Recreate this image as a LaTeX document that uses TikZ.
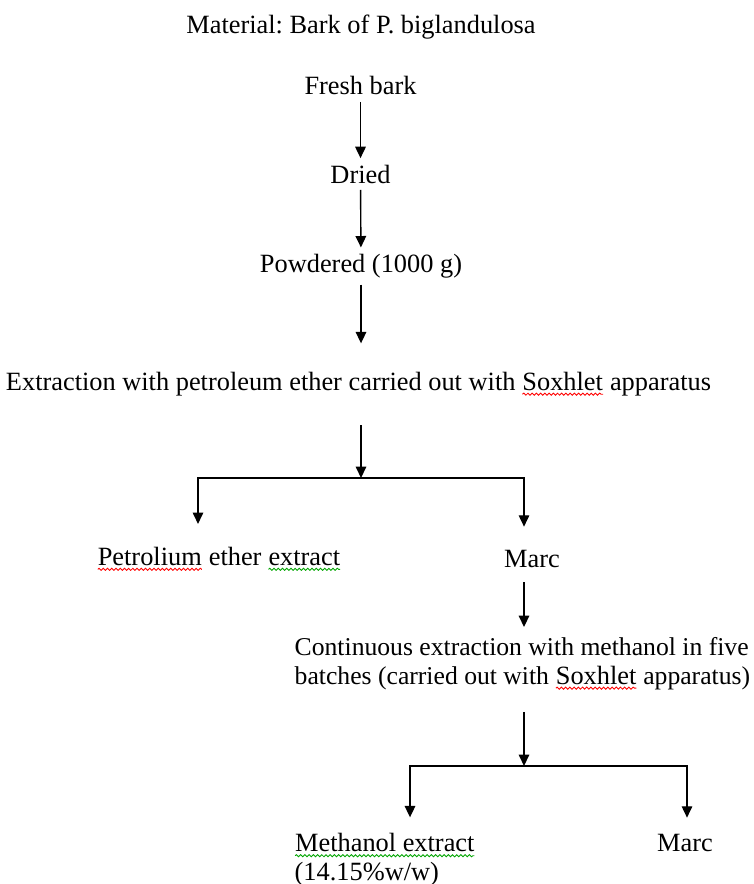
\documentclass[tikz,border=0pt]{standalone}
\usepackage{fontspec}
\setmainfont{Liberation Serif}
\usetikzlibrary{arrows.meta,decorations.pathmorphing}
\definecolor{spellred}{RGB}{255,0,0}
\definecolor{spellgreen}{RGB}{0,165,0}
\newcommand\spellwave[2]{\tikz[baseline=(w.base)]{\node[inner sep=0pt, outer sep=0pt] (w) {#2};
    \draw[#1, line width=0.5pt, decorate, decoration={snake, amplitude=0.6pt, segment length=2.4pt}] ([yshift=-2.2pt]w.base west) -- ([yshift=-2.2pt]w.base east);}}
\frenchspacing

\begin{document}
\begin{tikzpicture}[scale=1, >={Triangle[length=6.5pt,width=6pt]}, line width=0.8pt,
    every node/.style={font=\fontsize{15}{16.5}\selectfont}]
    \useasboundingbox (0,0) rectangle (15.08,17.68);
    \node (title) at (7.22,17.14) {Material: Bark of P. biglandulosa};
    \node (fresh) at (7.21,15.96) {Fresh bark};
    \node (dried) at (7.21,14.20) {Dried};
    \node (powder) at (7.22,12.36) {Powdered (1000 g)};
    \node (pet) at (7.17,10.00) {Extraction with petroleum ether carried out with \spellwave{spellred}{Soxhlet} apparatus};
    \node (petext) at (4.38,6.50) {\spellwave{spellred}{Petrolium} ether \spellwave{spellgreen}{extract}};
    \node (marc1) at (10.64,6.50) {Marc};
    \node[anchor=west, align=left, font=\fontsize{14.6}{16.5}\selectfont] (meth) at (5.77,4.41) {Continuous extraction with methanol in five\\batches (carried out with \spellwave{spellred}{Soxhlet} apparatus)};
    \node[anchor=west, align=left] (methext) at (5.77,0.48) {\spellwave{spellgreen}{Methanol extract}\\(14.15\%w/w)};
    \node (marc2) at (13.70,0.82) {Marc};
    \coordinate (j1) at (7.22,8.12);
    \coordinate (l1) at (3.96,8.12);
    \coordinate (r1) at (10.48,8.12);
    \coordinate (j2) at (10.48,2.36);
    \coordinate (l2) at (8.20,2.36);
    \coordinate (r2) at (13.74,2.36);
    \draw[->] (fresh) -- (dried);
    \draw[->] (dried) -- (powder);
    \draw[->, shorten >=0.45cm] (powder) -- (powder |- pet.north);
    \draw[->, shorten <=0.46cm] (pet.south -| j1) -- (j1);
    \draw[<->, shorten <=0.34cm, shorten >=0.34cm] (l1 |- petext.north) -- (l1) -- (r1) -- (r1 |- marc1.north);
    \draw[->, shorten <=0.16cm, shorten >=0.08cm] (r1 |- marc1.south) -- (r1 |- meth.north);
    \draw[->, shorten <=0.32cm] (j2 |- meth.south) -- (j2);
    \draw[<->, shorten <=0.2cm, shorten >=0.2cm] (l2 |- methext.north) -- (l2) -- (r2) -- (r2 |- marc2.north);
\end{tikzpicture}
\end{document}
